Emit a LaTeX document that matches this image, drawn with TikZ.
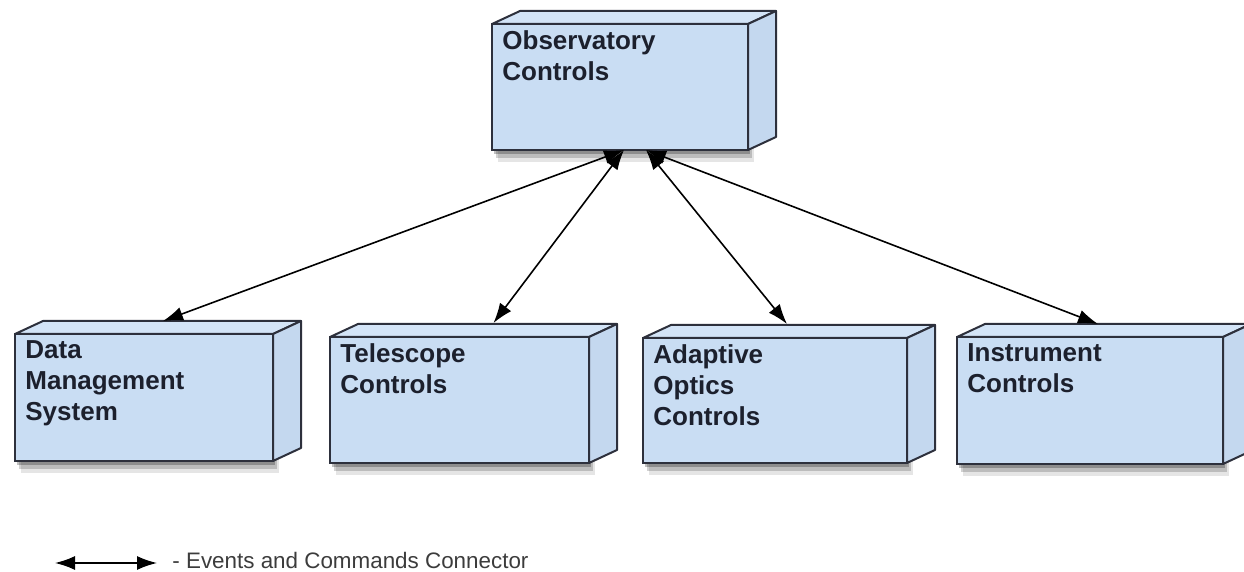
\documentclass[tikz,border=0pt]{standalone}
\usepackage{fontspec}
\setmainfont{Liberation Sans}
\usetikzlibrary{arrows.meta,shadows}

\definecolor{boxfront}{RGB}{201,221,243}
\definecolor{boxtop}{RGB}{211,228,247}
\definecolor{boxside}{RGB}{196,216,239}
\definecolor{boxline}{RGB}{45,48,60}
\definecolor{labelink}{RGB}{28,32,45}
\definecolor{legendink}{RGB}{60,60,60}

% deployment node: name, x, y (front top left), width, height, label
\newcommand{\deploynode}[6]{%
    \node[frontface, minimum width=#4, minimum height=#5, anchor=north west] (#1) at (#2,#3) {};
    \filldraw[sideface, fill=boxtop] (#1.north west) -- ([shift={(28,-13)}]#1.north west)
        -- ([shift={(28,-13)}]#1.north east) -- (#1.north east) -- cycle;
    \filldraw[sideface, fill=boxside] (#1.north east) -- ([shift={(28,-13)}]#1.north east)
        -- ([shift={(28,-13)}]#1.south east) -- (#1.south east) -- cycle;
    \node[boxlabel] (#1-label) at ([shift={(10,6)}]#1.north west) {#6};
}

\begin{document}
\begin{tikzpicture}
        [x=0.5pt,y=-0.5pt,
        frontface/.style={rectangle,draw=boxline,fill=boxfront,line width=1pt,outer sep=0pt,
            drop shadow={shadow xshift=1pt,shadow yshift=-2pt,opacity=0.25,fill=black},
            drop shadow={shadow xshift=2pt,shadow yshift=-4pt,opacity=0.18,fill=black},
            drop shadow={shadow xshift=3pt,shadow yshift=-6pt,opacity=0.10,fill=black}},
        sideface/.style={draw=boxline,line width=1pt,line join=round},
        boxlabel/.style={anchor=north west,inner sep=0pt,align=left,text=labelink,
            font=\bfseries\fontsize{13pt}{15.5pt}\selectfont},
        connector/.style={{Latex[length=10pt,width=7pt]}-{Latex[length=10pt,width=7pt]},line width=0.8pt},
        legendtext/.style={anchor=base west,inner sep=0pt,text=legendink,
            font=\fontsize{11.2pt}{14pt}\selectfont}]
        \useasboundingbox (0,0) rectangle (1244,572);

        \deploynode{obs}{492}{24}{128pt}{63pt}{Observatory\\Controls}
        \deploynode{dms}{15}{334}{129pt}{63.5pt}{Data\\Management\\System}
        \deploynode{tel}{330}{337}{129.5pt}{63pt}{Telescope\\Controls}
        \deploynode{ao}{643}{338}{132pt}{62.5pt}{Adaptive\\Optics\\Controls}
        \deploynode{ins}{957}{337}{133pt}{63.5pt}{Instrument\\Controls}

        \coordinate (obs-l) at ([shift={(4,0)}]obs.south);
        \coordinate (obs-r) at ([shift={(26,0)}]obs.south);
        \coordinate (dms-in) at ([shift={(19,-13)}]dms.north);
        \coordinate (tel-in) at ([shift={(34,-14)}]tel.north);
        \coordinate (ao-in) at ([shift={(12,-14)}]ao.north);
        \coordinate (ins-in) at ([shift={(8,-13)}]ins.north);

        \draw[connector] (obs-l) -- (dms-in);
        \draw[connector] (obs-l) -- (tel-in);
        \draw[connector] (obs-r) -- (ao-in);
        \draw[connector] (obs-r) -- (ins-in);

        % legend
        \coordinate (leg-a) at (55,563);
        \coordinate (leg-b) at (157,563);
        \draw[connector] (leg-a) -- (leg-b);
        \node[legendtext] (leg-text) at ([shift={(15,5)}]leg-b) {- Events and Commands Connector};
    \end{tikzpicture}
\end{document}
